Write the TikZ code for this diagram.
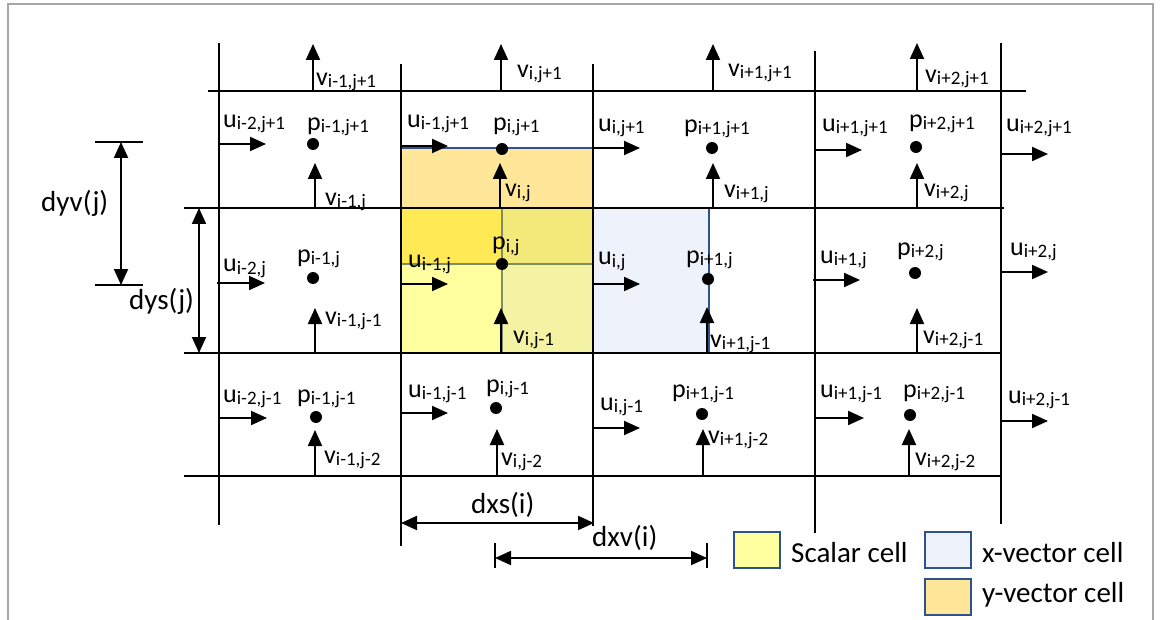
\documentclass[tikz,border=0pt]{standalone}
\usepackage{fontspec}
\setmainfont{Carlito}
\usetikzlibrary{arrows.meta}

\definecolor{framec}{HTML}{A6A6A6}
\definecolor{edgeblue}{HTML}{2F528F}
\definecolor{ycell}{HTML}{FFE699}
\definecolor{xcell}{HTML}{EEF2FA}
\definecolor{scell}{HTML}{FFFF9F}
\definecolor{sy}{HTML}{FFE955}
\definecolor{sxy}{HTML}{F3E87A}
\definecolor{sx}{HTML}{F3F3A3}
\definecolor{innerc}{HTML}{7D8F5E}

% symbol with an index: main letter and a smaller lowered index
\newcommand\sym[2]{{\fontsize{26}{26}\selectfont #1}\raisebox{-2pt}{\fontsize{19}{19}\selectfont #2}}
% labelled grid quantity: name, x, baseline y, letter, index
\newcommand\qty[5]{\node[lab] (#1) at (#2,#3) {\sym{#4}{#5}};}
% vector arrow between two named coordinates
\newcommand\arr[5]{\coordinate (#1-s) at (#2,#3); \coordinate (#1-e) at (#4,#5); \draw[vec] (#1-s) -- (#1-e);}

\tikzset{
  gridline/.style={line width=2pt, line cap=rect},
  vec/.style={line width=2pt, -{Triangle[length=16pt,width=14pt]}},
  dimarrow/.style={line width=2pt, {Triangle[length=16pt,width=14pt]}-{Triangle[length=16pt,width=14pt]}},
  tick/.style={line width=2pt},
  dot/.style={circle, fill=black, inner sep=0pt, minimum size=12pt},
  lab/.style={anchor=base west, inner sep=0pt},
  bigtext/.style={anchor=base west, inner sep=0pt, font=\fontsize{29}{29}\selectfont},
  key/.style={draw=edgeblue, line width=2pt, minimum width=46pt, minimum height=36pt, inner sep=0pt}
}

\begin{document}
\begin{tikzpicture}[x=1pt, y=-1pt]
\useasboundingbox (0,0) rectangle (1161,620);

% outer frame (open at the bottom)
\draw[framec, line width=2pt] (8,620) -- (8,4) -- (1153,4) -- (1153,620);

% ---- staggered control volumes ----
% y-vector cell (upper part)
\fill[ycell] (401,148) rectangle (593,208);
% scalar cell split by the overlapping x- and y-vector cells
\fill[sy]    (401,208) rectangle (502,264);
\fill[sxy]   (502,208) rectangle (593,264);
\fill[scell] (401,264) rectangle (502,353);
\fill[sx]    (502,264) rectangle (593,353);
% x-vector cell (right part)
\fill[xcell] (593,208) rectangle (709,353);
% cell outlines
\draw[edgeblue, line width=1.5pt] (401,148) rectangle (593,264);
\draw[edgeblue, line width=1.5pt] (502,208) rectangle (709,353);
\draw[innerc, line width=1.8pt] (502,208) -- (502,353);
\draw[innerc, line width=1.8pt] (401,264) -- (593,264);

% ---- grid ----
\draw[gridline] (209,91) -- (1025,91);
\draw[gridline] (185,208) -- (1003,208);
\draw[gridline] (185,353) -- (1001,353);
\draw[gridline] (185,476) -- (1000,476);
\draw[gridline] (219,44) -- (219,524);
\draw[gridline] (401,65) -- (401,545);
\draw[gridline] (593,65) -- (593,525);
\draw[gridline] (815,52) -- (815,532);
\draw[gridline] (1001,44) -- (1001,523);

% ---- row j+1 ----
\arr{vt1}{313}{91}{313}{44}
\arr{vt2}{501}{91}{501}{44}
\arr{vt3}{713}{91}{713}{44}
\arr{vt4}{917}{91}{917}{43}
\qty{lvt1}{316}{86}{v}{i-1,j+1}
\qty{lvt2}{517}{78}{v}{i,j+1}
\qty{lvt3}{728}{77}{v}{i+1,j+1}
\qty{lvt4}{925}{83}{v}{i+2,j+1}

\arr{ua1}{219}{144}{266}{144}
\arr{ua2}{401}{146}{448}{146}
\arr{ua3}{593}{148}{640}{148}
\arr{ua4}{815}{150}{862}{150}
\arr{ua5}{1001}{154}{1048}{154}
\arr{va1}{315}{208}{315}{163}
\arr{va2}{500}{208}{500}{163}
\arr{va3}{713}{208}{713}{163}
\arr{va4}{917}{208}{917}{163}
\node[dot] (pa1) at (313,144) {};
\node[dot] (pa2) at (502,149) {};
\node[dot] (pa3) at (712,148) {};
\node[dot] (pa4) at (916,147) {};
\qty{lua1}{223}{128}{u}{i-2,j+1}
\qty{lpa1}{307}{131}{p}{i-1,j+1}
\qty{lua2}{407}{128}{u}{i-1,j+1}
\qty{lpa2}{493}{131}{p}{i,j+1}
\qty{lua3}{598}{132}{u}{i,j+1}
\qty{lpa3}{684}{133}{p}{i+1,j+1}
\qty{lua4}{822}{132}{u}{i+1,j+1}
\qty{lpa4}{909}{128}{p}{i+2,j+1}
\qty{lua5}{1006}{132}{u}{i+2,j+1}
\qty{lva1}{325}{206}{v}{i-1,j}
\qty{lva2}{505}{197}{v}{i,j}
\qty{lva3}{724}{198}{v}{i+1,j}
\qty{lva4}{924}{197}{v}{i+2,j}

% ---- row j ----
\arr{ub1}{217}{283}{265}{283}
\arr{ub2}{401}{284}{448}{284}
\arr{ub3}{593}{284}{640}{284}
\arr{ub4}{813}{280}{860}{280}
\arr{ub5}{1001}{272}{1048}{272}
\arr{vb1}{315}{353}{315}{308}
\arr{vb2}{501}{353}{501}{308}
\arr{vb3}{707}{353}{707}{307}
\arr{vb4}{917}{353}{917}{308}
\node[dot] (pb1) at (313,278) {};
\node[dot] (pb2) at (502,264) {};
\node[dot] (pb3) at (708,279) {};
\node[dot] (pb4) at (915,273) {};
\qty{lub1}{223}{272}{u}{i-2,j}
\qty{lpb1}{297}{262}{p}{i-1,j}
\qty{lvb1}{325}{324}{v}{i-1,j-1}
\qty{lub2}{408}{268}{u}{i-1,j}
\qty{lpb2}{492}{250}{p}{i,j}
\qty{lvb2}{513}{343}{v}{i,j-1}
\qty{lub3}{598}{265}{u}{i,j}
\qty{lpb3}{686}{263}{p}{i+1,j}
\qty{lvb3}{710}{347}{v}{i+1,j-1}
\qty{lub4}{820}{263}{u}{i+1,j}
\qty{lpb4}{897}{255}{p}{i+2,j}
\qty{lvb4}{923}{343}{v}{i+2,j-1}
\qty{lub5}{1010}{255}{u}{i+2,j}

% ---- row j-1 ----
\arr{uc1}{219}{418}{267}{418}
\arr{uc2}{401}{413}{448}{413}
\arr{uc3}{593}{428}{640}{428}
\arr{uc4}{815}{418}{864}{418}
\arr{uc5}{1001}{421}{1048}{421}
\arr{vc1}{315}{476}{315}{430}
\arr{vc2}{497}{476}{497}{429}
\arr{vc3}{703}{476}{703}{429}
\arr{vc4}{909}{476}{909}{429}
\node[dot] (pc1) at (316,417) {};
\node[dot] (pc2) at (496,408) {};
\node[dot] (pc3) at (702,414) {};
\node[dot] (pc4) at (910,415) {};
\qty{luc1}{223}{402}{u}{i-2,j-1}
\qty{lpc1}{297}{402}{p}{i-1,j-1}
\qty{lvc1}{324}{463}{v}{i-1,j-2}
\qty{luc2}{408}{397}{u}{i-1,j-1}
\qty{lpc2}{486}{392}{p}{i,j-1}
\qty{lvc2}{501}{465}{v}{i,j-2}
\qty{luc3}{600}{410}{u}{i,j-1}
\qty{lpc3}{672}{397}{p}{i+1,j-1}
\qty{lvc3}{708}{443}{v}{i+1,j-2}
\qty{luc4}{820}{397}{u}{i+1,j-1}
\qty{lpc4}{903}{397}{p}{i+2,j-1}
\qty{lvc4}{915}{465}{v}{i+2,j-2}
\qty{luc5}{1008}{403}{u}{i+2,j-1}

% ---- grid spacings ----
\coordinate (dyv-t) at (121,142);
\coordinate (dyv-b) at (121,285);
\draw[tick] (95,142) -- (143,142);
\draw[tick] (95,285) -- (143,285);
\draw[dimarrow] (dyv-t) -- (dyv-b);
\node[bigtext] (dyvtext) at (41,212) {dyv(j)};

\coordinate (dys-t) at (199,208);
\coordinate (dys-b) at (199,353);
\draw[dimarrow] (dys-t) -- (dys-b);
\node[bigtext] (dystext) at (129,309) {dys(j)};

\coordinate (dxs-l) at (401,523);
\coordinate (dxs-r) at (594,523);
\draw[dimarrow] (dxs-l) -- (dxs-r);
\node[bigtext] (dxstext) at (471,513) {dxs(i)};

\coordinate (dxv-l) at (495,558);
\coordinate (dxv-r) at (707,558);
\draw[tick] (495,543) -- (495,568);
\draw[tick] (707,543) -- (707,568);
\draw[dimarrow] (dxv-l) -- (dxv-r);
\node[bigtext] (dxvtext) at (592,546) {dxv(i)};

% ---- legend ----
\node[key, fill=scell] (keys) at (757,550) {};
\node[bigtext] (keystext) at (791,562) {Scalar cell};
\node[key, fill=xcell] (keyx) at (947.5,550) {};
\node[bigtext] (keyxtext) at (982,562) {x-vector cell};
\node[key, fill=ycell] (keyy) at (947.5,597) {};
\node[bigtext] (keyytext) at (982,602) {y-vector cell};
\end{tikzpicture}
\end{document}
